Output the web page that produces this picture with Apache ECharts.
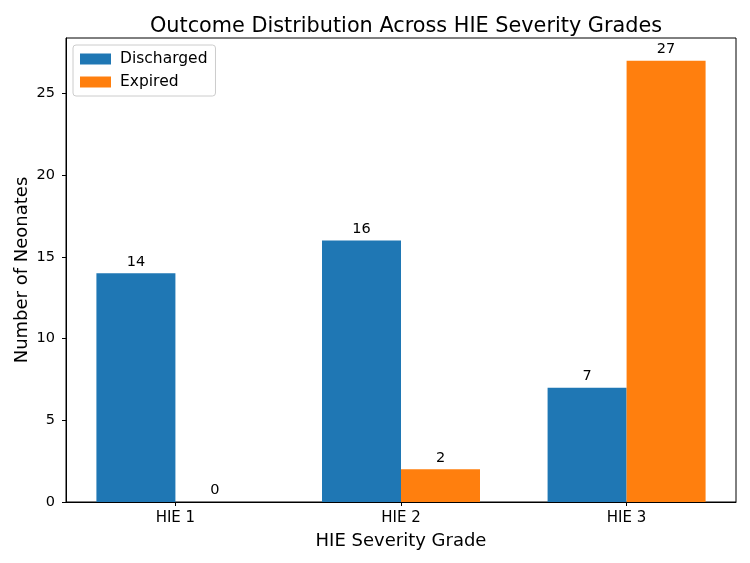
<!DOCTYPE html>
<html>
<head>
<meta charset="utf-8">
<script src="https://cdn.jsdelivr.net/npm/echarts@6/dist/echarts.min.js"></script>
<style>html,body{margin:0;padding:0;background:#fff;}</style>
</head>
<body>
<div id="chart" style="width:750px;height:563px;"></div>
<script>
	// 数据
	var categories = ['HIE 1', 'HIE 2', 'HIE 3'];
	var discharged = [14, 16, 7];
	var expired = [0, 2, 27];
	var yTicks = [0, 5, 10, 15, 20, 25];

	var font = 'DejaVu Sans';
	var bw = 79;	// bar width, px

	function pairs(arr){
		var out = [];
		for(var i = 0; i < arr.length; i++){
			out.push([i, arr[i]]);
		}
		return out;
	}

	var labelStyle = {show:true, position:'top', distance:4, color:'#000', fontSize:14.5, fontFamily:font};

	var option = {
		animation:false,
		title:{
			text:'Outcome Distribution Across HIE Severity Grades',
			left:401, top:11, textAlign:'center',
			textStyle:{fontFamily:font, fontSize:20.8, fontWeight:'normal', color:'#000'}
		},
		legend:{
			orient:'vertical', left:73, top:45,
			padding:[6,8,6,7],
			itemWidth:31, itemHeight:11, itemGap:7,
			icon:'rect',
			borderColor:'#ccc', borderWidth:1, borderRadius:3,
			textStyle:{fontFamily:font, fontSize:15.5, color:'#000', padding:[0,0,0,4]},
			data:['Discharged','Expired']
		},
		grid:{left:66, right:14, top:38, bottom:61, show:true, borderColor:'#000', borderWidth:1, backgroundColor:'transparent'},
		xAxis:{
			type:'value', min:-0.485, max:2.485,
			name:'HIE Severity Grade', nameLocation:'middle', nameGap:30,
			nameTextStyle:{fontFamily:font, fontSize:18, color:'#000'},
			axisLine:{show:true, onZero:false, lineStyle:{color:'#000'}},
			axisTick:{show:true, length:4, customValues:[0,1,2], lineStyle:{color:'#000'}},
			axisLabel:{customValues:[0,1,2], fontFamily:font, fontSize:15, color:'#000', margin:9,
				formatter:function(v){ return categories[Math.round(v)]; }},
			splitLine:{show:false}
		},
		yAxis:{
			type:'value', min:0, max:28.4, interval:5,
			name:'Number of Neonates', nameLocation:'middle', nameGap:35, nameMoveOverlap:false,
			nameTextStyle:{fontFamily:font, fontSize:18, color:'#000'},
			axisLine:{show:true, onZero:false, lineStyle:{color:'#000'}},
			axisTick:{show:true, length:4, customValues:yTicks, lineStyle:{color:'#000'}},
			axisLabel:{customValues:yTicks, fontFamily:font, fontSize:14.5, color:'#000', margin:11},
			splitLine:{show:false}
		},
		series:[
			{name:'Discharged', type:'bar', barWidth:bw, barGap:'0%', itemStyle:{color:'#1f77b4'}, label:labelStyle, data:pairs(discharged)},
			{name:'Expired', type:'bar', barWidth:bw, barGap:'0%', itemStyle:{color:'#ff7f0e'}, label:labelStyle, data:pairs(expired)}
		]
	};
	echarts.init(document.getElementById('chart')).setOption(option);
</script>
</body>
</html>
